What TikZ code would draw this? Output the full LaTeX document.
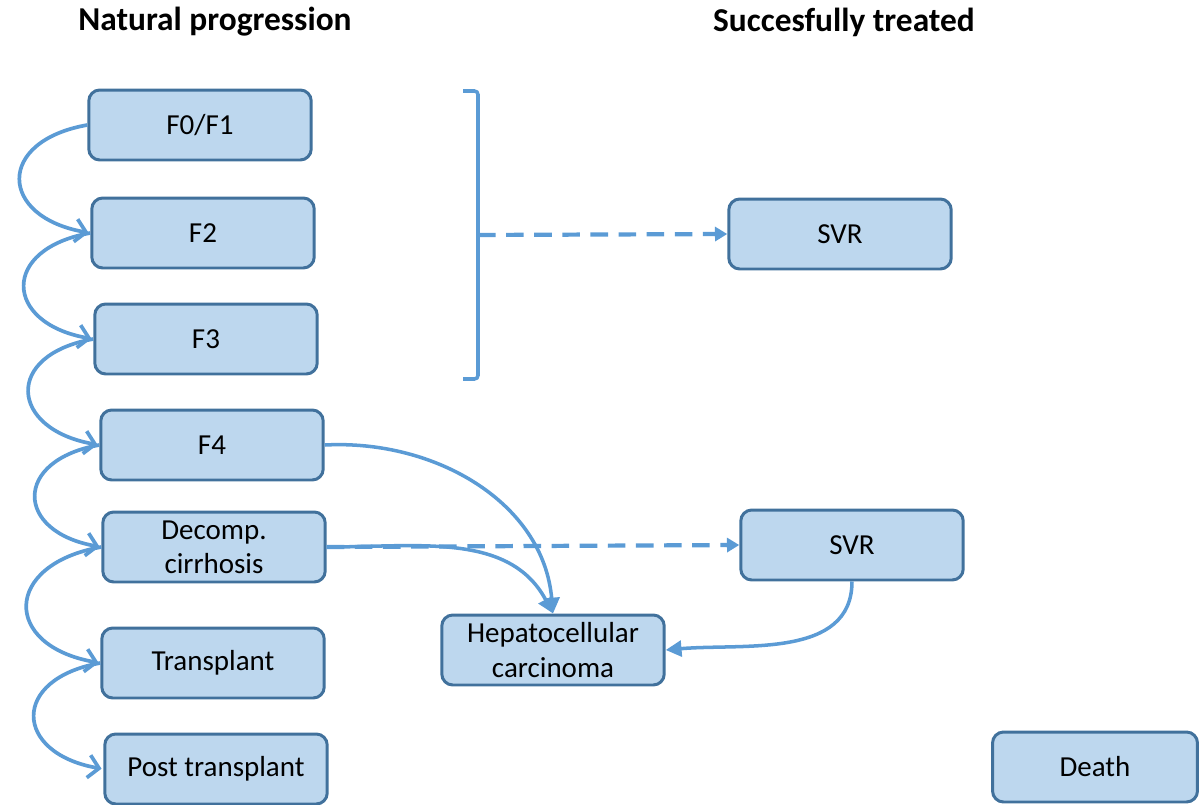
\documentclass[tikz,border=0pt]{standalone}
\usepackage{fontspec}
\setmainfont{Carlito}
\usetikzlibrary{arrows.meta}

\definecolor{boxfill}{RGB}{189,215,238}
\definecolor{boxline}{RGB}{65,113,156}
\definecolor{arrline}{RGB}{91,155,213}

\tikzset{
  state/.style={draw=boxline, fill=boxfill, line width=1.7pt, rounded corners=0.22cm,
    minimum width=4.45cm, minimum height=1.4cm, align=center, inner sep=2pt},
  flow/.style={draw=arrline, line width=2.1pt, shorten >=1pt,
    -{Straight Barb[length=6pt,width=13pt,line width=2.1pt]}},
  jump/.style={draw=arrline, line width=2pt, -{Triangle[length=9pt,width=9pt]}},
  treat/.style={draw=arrline, line width=2.4pt, dash pattern=on 10pt off 6pt,
    -{Triangle[length=7pt,width=8pt]}},
  title/.style={font=\fontsize{19}{23}\selectfont\bfseries},
}

\begin{document}
\begin{tikzpicture}[x=0.02cm, y=-0.02cm, font=\fontsize{16.5}{19.5}\selectfont]
 \useasboundingbox (0,0) rectangle (1201,805);

 % titles
 \node[title] (natural) at (215,22) {Natural progression};
 \node[title] (treated) at (844,22) {Succesfully treated};

 % natural progression
 \foreach \x/\y/\n/\txt in {200/125/f01/{F0/F1}, 203/233/f2/F2, 206/339/f3/F3, 212/445/f4/F4,
     214/547/dec/{Decomp.\\cirrhosis}, 213/663/tx/Transplant, 216/769/ptx/Post transplant} {
         \node[state] (\n) at (\x,\y) {\txt};
 }

 % treated states
 \node[state] (svrA) at (840,234) {SVR};
 \node[state] (svrB) at (852,545) {SVR};
 \node[state] (hcc) at (553,650) {Hepatocellular\\carcinoma};
 \node[state, minimum width=4.1cm] (death) at (1095,767) {Death};

 % bracket
 \draw[arrline, line width=2pt, rounded corners=2pt] (463,91) -- (478,91) -- (478,379) -- (463,379);
 \coordinate (brk) at (478,235);

 % lines
 \foreach \a/\b in {f01/f2, f2/f3, f3/f4, f4/dec, dec/tx, tx/ptx}
 	\draw[flow] (\a.west) to[out=190, in=170, looseness=2.2] (\b.west);

 \draw[treat] (brk) -- (svrA.west);
 \draw[treat] (dec.east) -- (svrB.west);

 \draw[jump] (f4.east) to[out=3, in=95] (hcc.north);
 \draw[jump] (dec.east) to[out=0, in=118] (hcc.north);
 \draw[jump] (svrB.south) to[out=-90, in=5] (hcc.east);

\end{tikzpicture}
\end{document}
